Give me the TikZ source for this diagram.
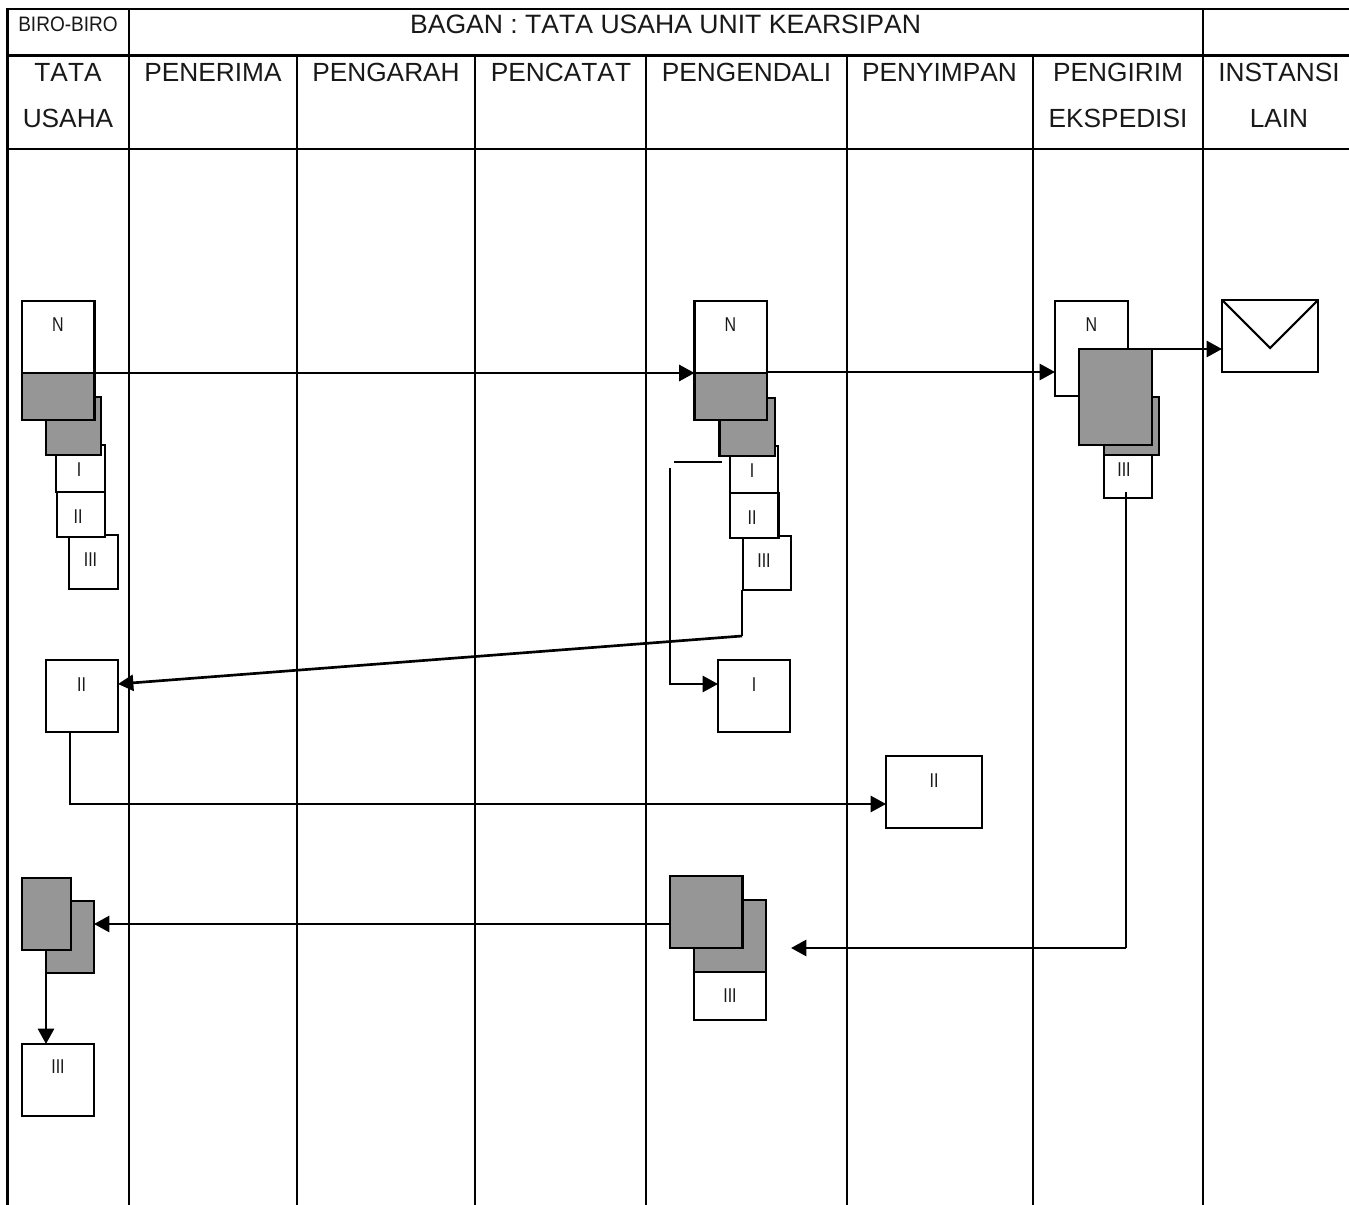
\documentclass[tikz,border=0pt]{standalone}
\usepackage{fontspec}
\setmainfont[Kerning=Off]{Liberation Sans}
\newfontfamily\narrowfont[FakeStretch=0.8]{Liberation Sans}
\newfontfamily\biroFont[FakeStretch=0.91,Kerning=Off]{Liberation Sans}
\usetikzlibrary{arrows.meta,calc}
\definecolor{docgrey}{HTML}{969696}
\tikzset{
  x=0.75pt,y=-0.75pt,
  grid/.style={line width=1.6pt,line cap=butt},
  whitebox/.style={draw=black,fill=white,line width=1.6pt,inner sep=0pt,outer sep=0pt},
  greybox/.style={whitebox,fill=docgrey},
  head/.style={anchor=base,inner sep=0pt,font=\fontsize{19.7}{22}\selectfont,text=black!90},
  tag/.style={anchor=base,inner sep=0pt,font=\narrowfont\fontsize{15}{17}\selectfont,text=black!90},
  flow/.style={line width=2pt,line join=miter},
  arr/.style={flow,-{Triangle[length=11.5pt,width=12pt]}},
}
\newcommand{\bx}[6]{\node[#6,minimum width={((#4)-(#2))*0.75pt},minimum height={((#5)-(#3))*0.75pt}] (#1) at ({((#2)+(#4))/2},{((#3)+(#5))/2}) {};}
\begin{document}
\begin{tikzpicture}
\useasboundingbox (0,0) rectangle (1349,1205);
\fill[white] (0,0) rectangle (1349,1205);
% grid
\draw[grid] (7.5,9) -- (1349,9);
\draw[grid] (7.5,55.5) -- (1349,55.5);
\draw[grid] (7.5,149) -- (1349,149);
\foreach \gx in {7.5,129,1203} \draw[grid] (\gx,8) -- (\gx,1205);
\foreach \gx in {297,475,646,847,1033} \draw[grid] (\gx,55.5) -- (\gx,1205);
% header
\node[anchor=base,inner sep=0pt,font=\biroFont\fontsize{15.7}{18}\selectfont,text=black!90] (hbiro) at (68,32) {BIRO-BIRO};
\node[head,font=\fontsize{19.93}{22}\selectfont] (htitle) at (665.5,34) {BAGAN : TATA USAHA UNIT KEARSIPAN};
\node[head] (h1a) at (68,82) {TATA};
\node[head] (h1b) at (68,128) {USAHA};
\node[head] (h2) at (213,82) {PENERIMA};
\node[head] (h3) at (386,82) {PENGARAH};
\node[head] (h4) at (561,82) {PENCATAT};
\node[head] (h5) at (746.5,82) {PENGENDALI};
\node[head] (h6) at (939.5,82) {PENYIMPAN};
\node[head] (h7a) at (1118,82) {PENGIRIM};
\node[head] (h7b) at (1118,128) {EKSPEDISI};
\node[head] (h8a) at (1279,82) {INSTANSI};
\node[head] (h8b) at (1279,128) {LAIN};
% Tata usaha stack
\bx{tuiii}{69}{535}{118}{589}{whitebox}
\bx{tuii}{57}{492}{105}{537}{whitebox}
\bx{tui}{56}{445}{105}{492}{whitebox}
\bx{tuga}{46}{397}{101}{455}{greybox}
\bx{tun}{22}{301}{94.5}{373}{whitebox}
\bx{tugb}{22}{373}{94.5}{420}{greybox}
% Pengendali stack
\bx{pgiii}{743}{536}{791}{590}{whitebox}
\bx{pgii}{730}{493}{778.5}{538}{whitebox}
\bx{pgi}{730}{446}{778}{493}{whitebox}
\bx{pgga}{719.5}{398}{775}{456}{greybox}
\bx{pgn}{694.5}{301}{767}{373}{whitebox}
\bx{pggb}{694.5}{373}{767}{420}{greybox}
% Pengirim stack
\bx{krn}{1055}{301}{1128}{396}{whitebox}
\bx{kriii}{1104}{455}{1152}{498}{whitebox}
\bx{krga}{1104}{397}{1159}{455}{greybox}
\bx{krgb}{1079}{349}{1152}{445}{greybox}
% Envelope
\bx{env}{1222}{300}{1318}{372}{whitebox}
\coordinate (envv) at (1270,348);
\draw[line width=1.6pt,line join=miter] (env.north west) -- (envv) -- (env.north east);
% lower boxes
\bx{lii}{46}{660}{118}{732}{whitebox}
\bx{pi}{718}{660}{790}{732}{whitebox}
\bx{sii}{886}{756}{982}{828}{whitebox}
\bx{miii}{694}{972}{766}{1020}{whitebox}
\bx{mga}{694}{900}{766}{972}{greybox}
\bx{mgb}{670}{876}{742.5}{948}{greybox}
\bx{lga}{46}{901}{94}{973}{greybox}
\bx{lgb}{22}{878}{71}{950}{greybox}
\bx{liii}{22}{1044}{94}{1116}{whitebox}
% tags
\node[tag] (t1) at (58,332) {N};
\node[tag] (t2) at (79,476) {I};
\node[tag] (t3) at (78,523) {II};
\node[tag] (t4) at (90.5,566) {III};
\node[tag] (t5) at (730.5,332) {N};
\node[tag] (t6) at (752,477) {I};
\node[tag] (t7) at (752,524) {II};
\node[tag] (t8) at (764,567) {III};
\node[tag] (t9) at (1091.5,332) {N};
\node[tag] (t10) at (1124,476) {III};
\node[tag] (t11) at (81.5,691) {II};
\node[tag] (t12) at (754,691) {I};
\node[tag] (t13) at (934,787) {II};
\node[tag] (t14) at (730,1002) {III};
\node[tag] (t15) at (58,1073) {III};
% connectors
\draw[arr] (tun.south east) -- (pgn.south west);
\draw[arr] (pgn.south east) ++(0,-1) -- (krn.west |- 0,372);
\draw[arr] (krn.east |- krgb.north) -- (krgb.north -| env.west);
\coordinate (a1) at (674,462);
\coordinate (a2) at (722,462);
\coordinate (a3) at (670,468);
\coordinate (a4) at ($(pi.north west)+(0,24)$);
\draw[flow] (a1) -- (a2);
\draw[arr] (a3) -- (a3 |- a4) -- (a4);
\coordinate (b1) at (742,590);
\coordinate (b2) at (742,636);
\coordinate (b3) at ($(lii.north east)+(0,24)$);
\draw[flow] (b1) -- (b2);
\draw[arr] (b2) -- (b3);
\coordinate (c1) at (70,804);
\draw[arr] (c1 |- lii.south) -- (c1) -- (c1 -| sii.west);
\coordinate (d1) at (1126,492);
\coordinate (d2) at (1126,948);
\coordinate (d3) at (791,948);
\draw[flow] (d1) -- (d2);
\draw[arr] (d2) -- (d3);
\coordinate (e1) at ($(mgb.north west)+(0,48)$);
\draw[arr] (e1) -- (e1 -| lga.east);
\draw[arr] (lgb.south -| lga.south west) -- (liii.north -| lga.south west);
\end{tikzpicture}
\end{document}
